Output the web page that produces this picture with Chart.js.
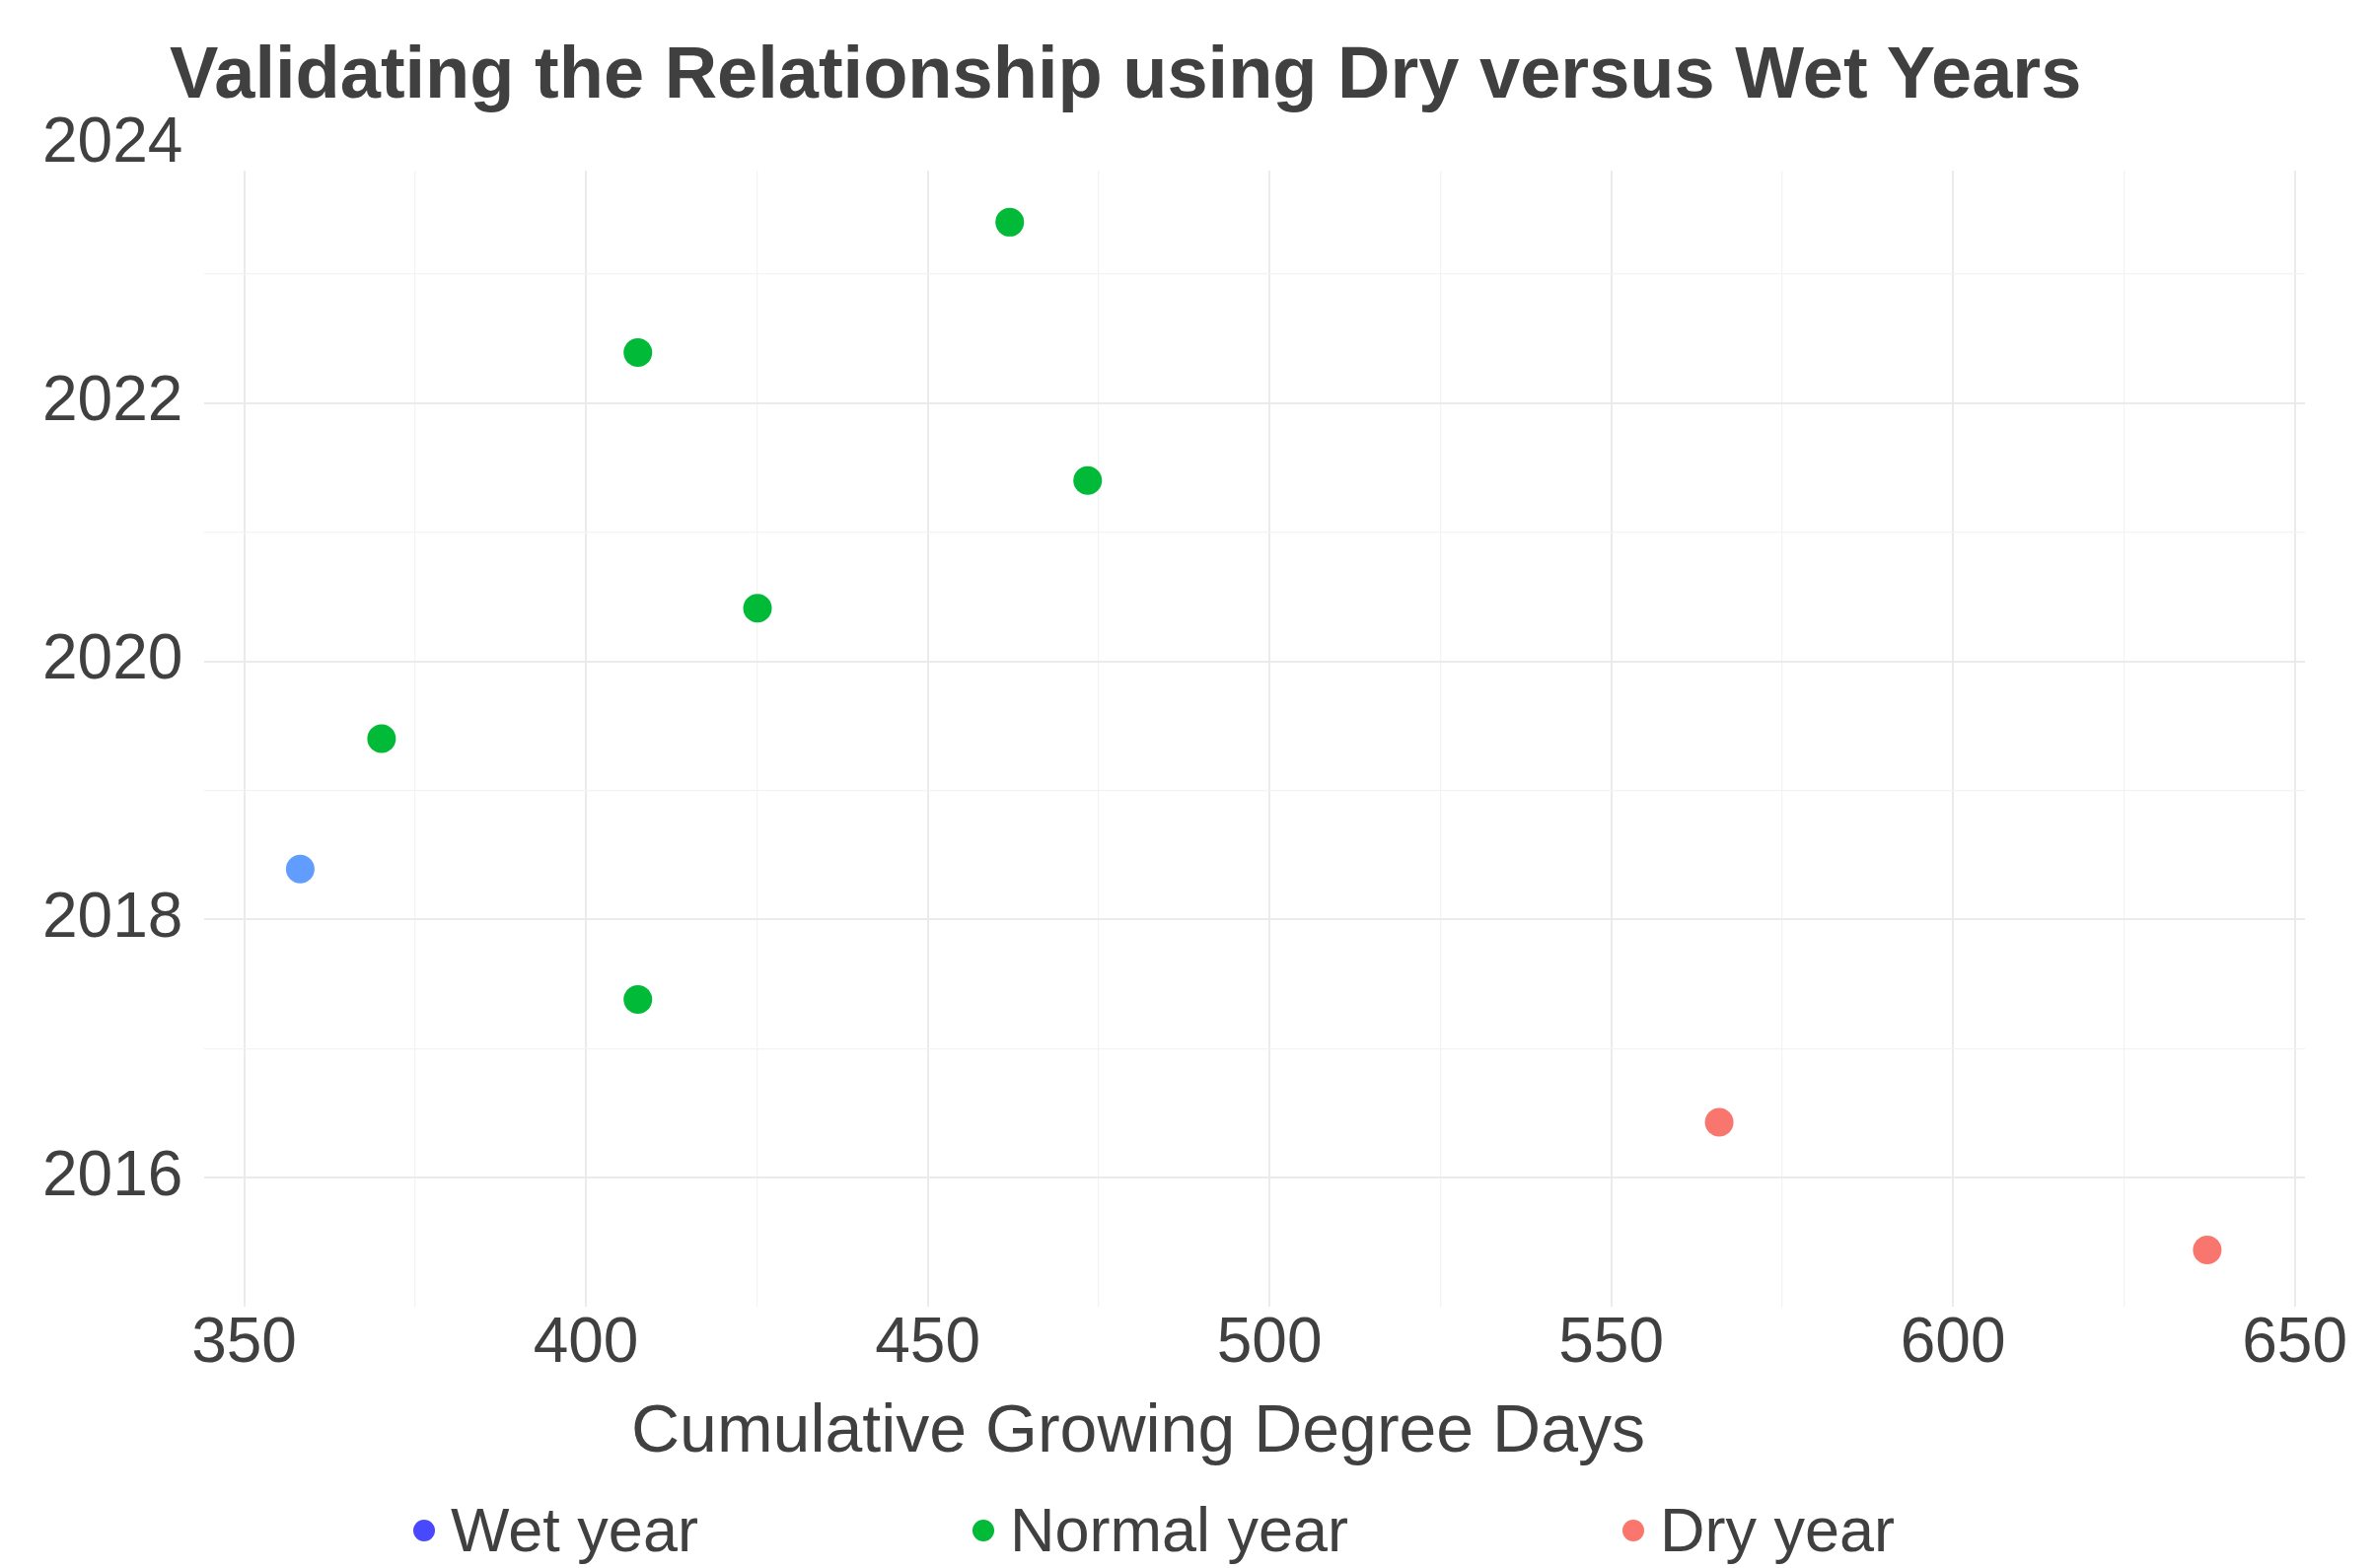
<!DOCTYPE html>
<html>
<head>
  <title>Validating the Relationship using Dry versus Wet Years</title>
  <script src="https://cdn.jsdelivr.net/npm/chart.js@4.4.1/dist/chart.umd.min.js"></script>
  <style>
    body {
      margin: 0;
      background: #fff;
      overflow: hidden;
    }
    #wrap {
      position: relative;
      width: 2409px;
      height: 1590px;
      font-family: "Liberation Sans", Arial, sans-serif;
      color: #404040;
    }
    #chart {
      position: absolute;
      left: 0;
      top: 0;
    }
    h1 {
      position: absolute;
      left: 172px;
      top: 37px;
      margin: 0;
      font-size: 74px;
      line-height: 74px;
      font-weight: bold;
      white-space: nowrap;
    }
    #xtitle {
      position: absolute;
      left: 1154px;
      top: 1414px;
      transform: translateX(-50%);
      font-size: 68px;
      line-height: 68px;
      white-space: nowrap;
    }
    #legend {
      position: absolute;
      left: 419px;
      top: 1520px;
      display: flex;
      gap: 278px;
      font-size: 63px;
      line-height: 63px;
    }
    .item {
      display: flex;
      align-items: center;
      gap: 16px;
      white-space: nowrap;
    }
    .dot {
      width: 22px;
      height: 22px;
      border-radius: 50%;
    }
  </style>
</head>
<body>
  <div id="wrap">
    <canvas id="chart" width="2409" height="1590"></canvas>
    <h1>Validating the Relationship using Dry versus Wet Years</h1>
    <div id="xtitle">Cumulative Growing Degree Days</div>
    <div id="legend"></div>
  </div>

  <script>
    // values (x = cumulative GDD, y = year position)
    const seriesNames = ['Wet year', 'Normal year', 'Dry year'];
    const wetGdd = [358.2];
    const wetYear = [2018.39];
    const normalGdd = [407.6, 370.1, 425.1, 473.4, 407.6, 462.0];
    const normalYear = [2017.38, 2019.40, 2020.41, 2021.40, 2022.39, 2023.40];
    const dryGdd = [637.2, 565.8];
    const dryYear = [2015.44, 2016.43];

    const xTicks = [350, 375, 400, 425, 450, 475, 500, 525, 550, 575, 600, 625, 650];
    const yTicks = [2016, 2017, 2018, 2019, 2020, 2021, 2022, 2023, 2024];

    const pointColors = ['#619CFF', '#00BA38', '#F8766D'];
    const legendColors = ['#4848FF', '#00BA38', '#F8766D'];

    const textColor = '#404040';
    const X_MIN = 344.2, X_MAX = 651.5;
    const Y_MIN = 2015.0, Y_MAX = 2023.8;

    function toPoints(xs, ys) {
      return xs.map((x, i) => ({ x: x, y: ys[i] }));
    }

    const seriesData = [
      toPoints(wetGdd, wetYear),
      toPoints(normalGdd, normalYear),
      toPoints(dryGdd, dryYear)
    ];

    // html legend, like the reference (dots + labels in one row)
    const legend = document.getElementById('legend');
    seriesNames.forEach((name, i) => {
      const item = document.createElement('div');
      item.className = 'item';
      const dot = document.createElement('span');
      dot.className = 'dot';
      dot.style.background = legendColors[i];
      const label = document.createElement('span');
      label.textContent = name;
      item.appendChild(dot);
      item.appendChild(label);
      legend.appendChild(item);
    });

    const tickFont = { family: '"Liberation Sans", Arial, sans-serif', size: 64, lineHeight: 1.2 };

    function gridColor(major) {
      return major ? '#EBEBEB' : '#F3F3F3';
    }

    new Chart(document.getElementById('chart'), {
      type: 'scatter',
      data: {
        datasets: seriesNames.map((name, i) => ({
          label: name,
          data: seriesData[i],
          backgroundColor: pointColors[i],
          borderWidth: 0,
          pointRadius: 14.5,
          pointHoverRadius: 14.5
        }))
      },
      options: {
        responsive: false,
        animation: false,
        devicePixelRatio: 1,
        events: [],
        layout: {
          padding: { left: 21, right: 72, top: 173, bottom: 188 }
        },
        plugins: {
          legend: { display: false },
          title: { display: false },
          tooltip: { enabled: false }
        },
        scales: {
          x: {
            type: 'linear',
            min: X_MIN,
            max: X_MAX,
            afterBuildTicks: (scale) => {
              scale.ticks = xTicks.map(v => ({ value: v }));
            },
            ticks: {
              autoSkip: false,
              maxRotation: 0,
              padding: 0,
              color: textColor,
              font: tickFont,
              callback: (v) => (v % 50 === 0 ? String(v) : '')
            },
            grid: {
              drawTicks: false,
              color: (ctx) => gridColor(ctx.tick && ctx.tick.value % 50 === 0),
              lineWidth: (ctx) => (ctx.tick && ctx.tick.value % 50 === 0 ? 2 : 1.3)
            },
            border: { display: false }
          },
          y: {
            type: 'linear',
            min: Y_MIN,
            max: Y_MAX,
            afterBuildTicks: (scale) => {
              scale.ticks = yTicks.map(v => ({ value: v }));
            },
            ticks: {
              autoSkip: false,
              padding: 22,
              color: textColor,
              font: tickFont,
              callback: (v) => (v % 2 === 0 ? String(v) : '')
            },
            grid: {
              drawTicks: false,
              // the 2024 label sits above the panel, so no line for it
              color: (ctx) => {
                if (!ctx.tick) return 'rgba(0,0,0,0)';
                if (ctx.tick.value > Y_MAX) return 'rgba(0,0,0,0)';
                return gridColor(ctx.tick.value % 2 === 0);
              },
              lineWidth: (ctx) => (ctx.tick && ctx.tick.value % 2 === 0 ? 2 : 1.3)
            },
            border: { display: false }
          }
        }
      }
    });
  </script>
</body>
</html>
